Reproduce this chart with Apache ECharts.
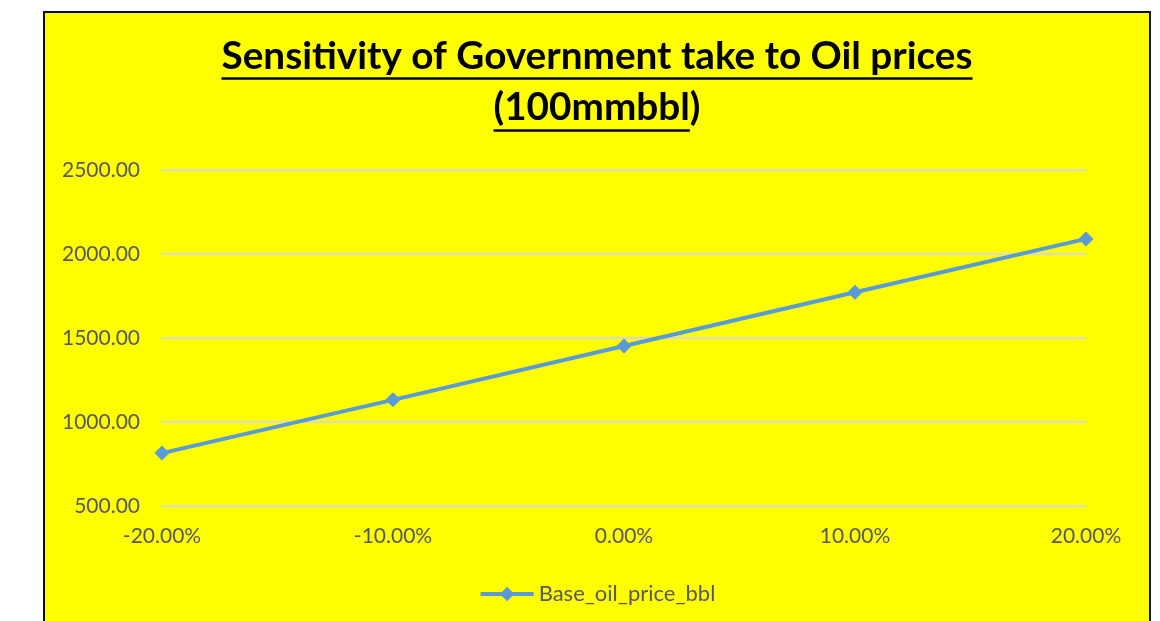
<!DOCTYPE html>
<html>
<head>
<meta charset="utf-8">
<script src="https://cdn.jsdelivr.net/npm/echarts@6/dist/echarts.min.js"></script>
<style>
  html, body { margin: 0; padding: 0; background: #ffffff; width: 1160px; height: 621px; overflow: hidden; }
  #box { position: absolute; left: 43px; top: 11px; width: 1104px; height: 640px; border: 2px solid #111; background: #FFFF00; }
  #chart { width: 1104px; height: 640px; }
</style>
</head>
<body>
<div id="box"><div id="chart"></div></div>
<script>
const titleLine1 = 'Sensitivity of Government take to Oil prices';
const titleLine2 = '(100mmbbl)';
const categories = ['-20.00%', '-10.00%', '0.00%', '10.00%', '20.00%'];
const seriesName = 'Base_oil_price_bbl';
const values = [815, 1132, 1452, 1772, 2090];
const yTicks = { min: 500, max: 2500, interval: 500 };

const FONT = 'Lato, "Liberation Sans", sans-serif';
const cx = 552;

// measure title widths for underline
const cnv = document.createElement('canvas').getContext('2d');
cnv.font = 'bold 36px ' + FONT;
const base = cnv.measureText(titleLine1).width;
const tSize = Math.round(36 * 752 / base * 10) / 10;
cnv.font = 'bold ' + tSize + 'px ' + FONT;
const w1 = cnv.measureText(titleLine1).width;
const w2 = cnv.measureText(titleLine2).width;
const w2p = cnv.measureText(titleLine2.slice(0, -1)).width;

const chart = echarts.init(document.getElementById('chart'));
chart.setOption({
  backgroundColor: '#FFFF00',
  animation: false,
  graphic: [
    { type: 'text', left: cx - w1 / 2, top: 24, style: { text: titleLine1, font: 'bold ' + tSize + 'px ' + FONT, fill: '#000' } },
    { type: 'text', left: cx - w2 / 2, top: 75, style: { text: titleLine2, font: 'bold ' + tSize + 'px ' + FONT, fill: '#000' } },
    { type: 'line', shape: { x1: cx - w1 / 2, y1: 65.5, x2: cx + w1 / 2, y2: 65.5 }, style: { stroke: '#000', lineWidth: 2.5 } },
    { type: 'line', shape: { x1: cx - w2 / 2, y1: 117.5, x2: cx - w2 / 2 + w2p, y2: 117.5 }, style: { stroke: '#000', lineWidth: 2.5 } }
  ],
  grid: { left: 117, top: 157, width: 924, height: 336, containLabel: false },
  legend: {
    data: [seriesName],
    left: 'center',
    top: 565,
    itemWidth: 53,
    itemHeight: 18,
    itemGap: 10,
    lineStyle: { width: 4 },
    textStyle: { color: '#595959', fontSize: 22, fontFamily: FONT }
  },
  xAxis: {
    type: 'category',
    data: categories,
    boundaryGap: false,
    axisLine: { show: false },
    axisTick: { show: false },
    axisLabel: { color: '#595959', fontSize: 21, fontFamily: FONT, margin: 20 }
  },
  yAxis: {
    type: 'value',
    min: yTicks.min,
    max: yTicks.max,
    interval: yTicks.interval,
    axisLine: { show: false },
    axisTick: { show: false },
    splitLine: { lineStyle: { color: '#D9D9D9', width: 2 } },
    axisLabel: { color: '#595959', fontSize: 21, fontFamily: FONT, margin: 22, formatter: v => v.toFixed(2) }
  },
  series: [{
    name: seriesName,
    type: 'line',
    data: values,
    symbol: 'diamond',
    symbolSize: 15,
    lineStyle: { color: '#5B9BD5', width: 4 },
    itemStyle: { color: '#5B9BD5' }
  }]
});
</script>
</body>
</html>
